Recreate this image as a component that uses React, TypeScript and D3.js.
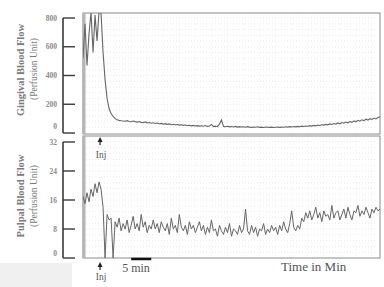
import React from 'react';
import * as d3 from 'd3';

const STEP_MIN = 0.5;

const gingival = [
  520, 760, 470, 690, 840, 560, 820, 640, 850,
  830, 560, 370, 240, 170, 135, 115, 100, 92, 88, 85,
  84, 82, 86, 80, 78, 83, 79, 76, 80, 74, 72, 77, 70, 73, 68, 71, 66, 69, 64, 67,
  62, 65, 60, 63, 58, 61, 56, 59, 55, 57, 53, 56, 52, 54, 50, 53, 49, 51, 48, 50,
  47, 52, 46, 49, 60, 45, 48, 44, 62, 90, 46, 44, 47, 43, 45, 42, 46, 41, 44, 42,
  43, 40, 44, 41, 39, 42, 40, 43, 39, 41, 38, 42, 40, 39, 41, 38, 40, 42, 39, 41,
  40, 43, 41, 44, 42, 45, 43, 46, 44, 48, 45, 49, 47, 51, 48, 53, 50, 55, 52, 57,
  55, 60, 57, 63, 59, 66, 62, 70, 64, 73, 68, 76, 71, 80, 74, 84, 78, 88, 82, 92,
  86, 96, 90, 100, 94, 104, 98, 108, 112,
];

const pulpal = [
  17, 15, 18, 15.5, 19, 17, 20.5, 18, 21, 19, 14, 0, 12, 10.5, 11, 0,
  10, 8.5, 11, 7.5, 9.5, 8, 10.5, 7, 9, 11.5, 8, 9.5, 7.5, 12, 8.5, 10, 7, 9, 8, 10.5,
  8, 9.5, 7, 10, 8.5, 7.5, 9.5, 6.5, 11, 8, 9, 7, 12, 8.5, 7.5, 9, 6.5, 10, 8, 9,
  7, 8.5, 10, 7.5, 9, 6.5, 8.5, 7, 10.5, 7.5, 8, 6, 9, 7.5, 6.5, 8.5, 7, 9.5, 6, 8,
  7.5, 6.5, 9, 7, 8, 13.5, 7.5, 6.5, 9, 7, 8.5, 6, 8, 7.5, 9.5, 6.5, 8, 7, 9, 7.5,
  8.5, 6.5, 9, 7.5, 10, 8, 7, 9.5, 13, 8.5, 7.5, 9, 8,
  11, 10, 12.5, 11, 13, 10.5, 12, 14, 11, 12.5, 10, 13, 11.5, 12, 10.5, 14.5, 11, 12.5, 13, 10.5,
  12, 13.5, 11, 14, 12, 10.5, 13, 12.5, 14.5, 11.5, 13, 12, 14, 12.5, 11, 13.5, 12.5, 14, 13, 13.5,
];

const gingivalTicks = [0, 200, 400, 600, 800];
const pulpalTicks = [0, 8, 16, 24, 32];
const timeDomain = [0, 74];
const injMin = 4.25;
const scaleBarMin = [12, 17];

const FONT = "'Liberation Serif', 'DejaVu Serif', serif";

export default function App() {
  const x = d3.scaleLinear().domain(timeDomain).range([83, 380]);
  const yG = d3.scaleLinear().domain([0, 800]).range([133, 18]);
  const yP = d3.scaleLinear().domain([0, 32]).range([258, 142]);

  const topFrame = { x0: 83, x1: 380, y0: 13, y1: 134 };
  const botFrame = { x0: 83, x1: 380, y0: 136, y1: 258 };

  const lineG = d3
    .line<number>()
    .x((_, i) => x(i * STEP_MIN))
    .y((d) => yG(d));
  const lineP = d3
    .line<number>()
    .x((_, i) => x(i * STEP_MIN))
    .y((d) => yP(d));

  const gridG = d3.range(0, 840, 40);
  const gridP = d3.range(0, 33, 1.6);
  const gridX = d3.range(0, 75, 4);

  const axisColor = '#3a3a3a';
  const textColor = '#7a7a7a';

  const frame = (f: any, key: string, gridY: number[], ys: any) => (
    <g key={key}>
      <rect x={f.x0} y={f.y0} width={f.x1 - f.x0} height={f.y1 - f.y0} fill="#fff" />
      {gridY.map((v) =>
        ys(v) > f.y0 + 2 && ys(v) < f.y1 - 2 ? (
          <line key={'h' + v} x1={f.x0 + 3} x2={f.x1 - 3} y1={ys(v)} y2={ys(v)} stroke="#e2e2e2" strokeWidth={0.8} strokeDasharray="1,2" />
        ) : null
      )}
      {gridX.map((t) => (
        <line key={'v' + t} x1={x(t)} x2={x(t)} y1={f.y0 + 2} y2={f.y1 - 2} stroke="#ececec" strokeWidth={0.6} strokeDasharray="1,2" />
      ))}
      <rect x={f.x0} y={f.y0} width={f.x1 - f.x0} height={f.y1 - f.y0} fill="none" stroke="#8a8a8a" strokeWidth={1} />
      <line x1={f.x0 + 1} x2={f.x0 + 1} y1={f.y0} y2={f.y1} stroke="#b5b5b5" strokeWidth={3} />
    </g>
  );

  const injX = x(injMin);

  const arrow = (cx: number, cy: number, key: string) => (
    <g key={key}>
      <path d={`M${cx},${cy - 4} L${cx - 2.5},${cy + 1} L${cx + 2.5},${cy + 1} Z`} fill="#222" />
      <line x1={cx} x2={cx} y1={cy} y2={cy + 4} stroke="#222" strokeWidth={1.2} />
    </g>
  );

  return (
    <svg width={384} height={287} style={{ position: 'absolute', left: 0, top: 0, background: '#fff' }}>
      <defs>
        <clipPath id="clipTop">
          <rect x={topFrame.x0} y={topFrame.y0} width={topFrame.x1 - topFrame.x0} height={topFrame.y1 - topFrame.y0} />
        </clipPath>
        <clipPath id="clipBot">
          <rect x={botFrame.x0} y={botFrame.y0} width={botFrame.x1 - botFrame.x0} height={botFrame.y1 - botFrame.y0} />
        </clipPath>
      </defs>
      <rect x={0} y={263} width={72} height={24} fill="#f0f0f0" />

      {frame(topFrame, 'top', gridG, yG)}
      {frame(botFrame, 'bot', gridP, yP)}

      <path d={lineG(gingival) || ''} fill="none" stroke="#666" strokeWidth={1.1} clipPath="url(#clipTop)" />
      <path d={lineP(pulpal) || ''} fill="none" stroke="#666" strokeWidth={1} clipPath="url(#clipBot)" />

      {/* left axes */}
      <line x1={63} x2={63} y1={yG(800)} y2={yG(0)} stroke={axisColor} strokeWidth={1.6} />
      {gingivalTicks.map((t) => (
        <g key={'gt' + t}>
          <line x1={63} x2={75} y1={yG(t)} y2={yG(t)} stroke={axisColor} strokeWidth={1.4} />
          <text x={57} y={t === 0 ? yG(t) - 4 : yG(t) + 2.5} textAnchor="end" fontSize={7.5} fontWeight="bold" fill="#8a8a8a" fontFamily={FONT}>
            {t}
          </text>
        </g>
      ))}
      <line x1={63} x2={63} y1={yP(32)} y2={yP(0)} stroke={axisColor} strokeWidth={1.6} />
      {pulpalTicks.map((t) => (
        <g key={'pt' + t}>
          <line x1={63} x2={75} y1={yP(t)} y2={yP(t)} stroke={axisColor} strokeWidth={1.4} />
          <text x={57} y={t === 0 ? yP(t) - 2 : yP(t) + 2.5} textAnchor="end" fontSize={7.5} fontWeight="bold" fill="#8a8a8a" fontFamily={FONT}>
            {t}
          </text>
        </g>
      ))}

      {/* y titles */}
      <g transform="translate(24,70) rotate(-90)">
        <text textAnchor="middle" fontSize={10.5} fontWeight="bold" fill={textColor} fontFamily={FONT}>Gingival Blood Flow</text>
      </g>
      <g transform="translate(37,69) rotate(-90)">
        <text textAnchor="middle" fontSize={9.5} fill={textColor} fontFamily={FONT}>(Perfusion Unit)</text>
      </g>
      <g transform="translate(24,196) rotate(-90)">
        <text textAnchor="middle" fontSize={10.5} fontWeight="bold" fill={textColor} fontFamily={FONT}>Pulpal Blood Flow</text>
      </g>
      <g transform="translate(37,196) rotate(-90)">
        <text textAnchor="middle" fontSize={9.5} fill={textColor} fontFamily={FONT}>(Perfusion Unit)</text>
      </g>

      {/* injection markers */}
      {arrow(injX, 141, 'a1')}
      <text x={injX + 1} y={158} textAnchor="middle" fontSize={9.5} fill="#555" fontFamily={FONT}>Inj</text>
      {arrow(injX, 266, 'a2')}
      <text x={injX + 1} y={280} textAnchor="middle" fontSize={9.5} fill="#555" fontFamily={FONT}>Inj</text>

      {/* scale bar */}
      <line x1={x(scaleBarMin[0])} x2={x(scaleBarMin[1])} y1={259} y2={259} stroke="#111" strokeWidth={2.5} />
      <text x={x(scaleBarMin[0]) - 9} y={272} fontSize={12} fill="#555" fontFamily={FONT}>5 min</text>
      <text x={281} y={271} fontSize={13} fill="#555" fontFamily={FONT}>Time in Min</text>
    </svg>
  );
}
